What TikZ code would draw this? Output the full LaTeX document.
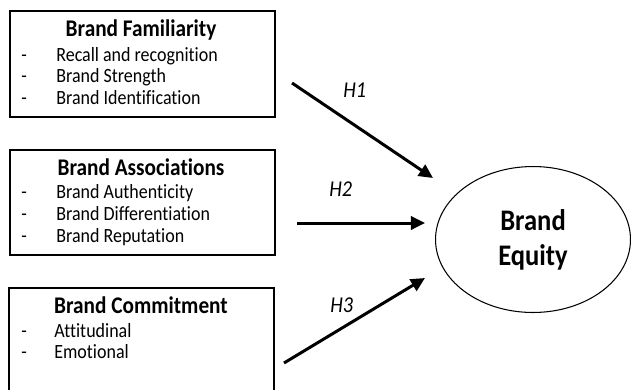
\documentclass[tikz,border=0pt]{standalone}
\usepackage{fontspec}
\setmainfont{Carlito}[FakeStretch=0.89,Ligatures=NoCommon]
\usetikzlibrary{shapes.geometric,arrows.meta}

\tikzset{
  box/.style={draw,line width=1.1pt,minimum width=5.3cm,inner sep=0pt},
  ttl/.style={anchor=base,inner sep=0pt,font=\fontsize{13.6}{16}\selectfont\bfseries},
  itm/.style={anchor=base west,inner sep=0pt,font=\fontsize{11.5}{13}\selectfont},
  hyp/.style={anchor=base west,inner sep=0pt,font=\fontsize{12.9}{15}\selectfont\itshape},
  link/.style={->,line width=1.7pt}
}

\begin{document}
\begin{tikzpicture}[>={Triangle[length=8pt,width=7.5pt]},x=0.02cm,y=-0.02cm]
    \useasboundingbox (0,0) rectangle (631,389);
    % boxes
    \node[box,minimum height=2.12cm] (fambox) at (142.5,64) {};
    \node[box,minimum height=2.1cm] (assbox) at (142.5,202.5) {};
    \node[box,minimum height=2.6cm] (combox) at (141.5,353) {};
    \node[ttl] (famttl) at (141,36) {Brand Familiarity};
    \node[ttl] (assttl) at (141,175) {Brand Associations};
    \node[ttl] (comttl) at (141,313) {Brand Commitment};
    \foreach \t [count=\i] in {Recall and recognition,Brand Strength,Brand Identification}
        {\node[itm] (famd\i) at (21,39.5+21.5*\i) {-}; \node[itm] (fami\i) at (56,39.5+21.5*\i) {\t};}
    \foreach \t [count=\i] in {Brand Authenticity,Brand Differentiation,Brand Reputation}
        {\node[itm] (assd\i) at (21,176+22*\i) {-}; \node[itm] (assi\i) at (56,176+22*\i) {\t};}
    \foreach \t [count=\i] in {Attitudinal,Emotional}
        {\node[itm] (comd\i) at (21,316+21*\i) {-}; \node[itm] (comi\i) at (54,316+21*\i) {\t};}
    % outcome
    \node[draw,ellipse,line width=0.6pt,minimum width=3.9cm,minimum height=2.92cm,inner sep=0pt,align=center,
          font=\fontsize{17}{20}\selectfont\bfseries] (equity) at (533,239.5) {Brand\\Equity};
    % hypotheses
    \coordinate (h1a) at (292,83);  \coordinate (h1b) at (433,178);
    \coordinate (h2a) at (297,223); \coordinate (h2b) at (425,223);
    \coordinate (h3a) at (284,363); \coordinate (h3b) at (425,278);
    \draw[link] (h1a) -- (h1b);
    \draw[link] (h2a) -- (h2b);
    \draw[link] (h3a) -- (h3b);
    \node[hyp] (h1) at (343,97) {H1};
    \node[hyp] (h2) at (329,196) {H2};
    \node[hyp] (h3) at (330,312) {H3};
\end{tikzpicture}
\end{document}
